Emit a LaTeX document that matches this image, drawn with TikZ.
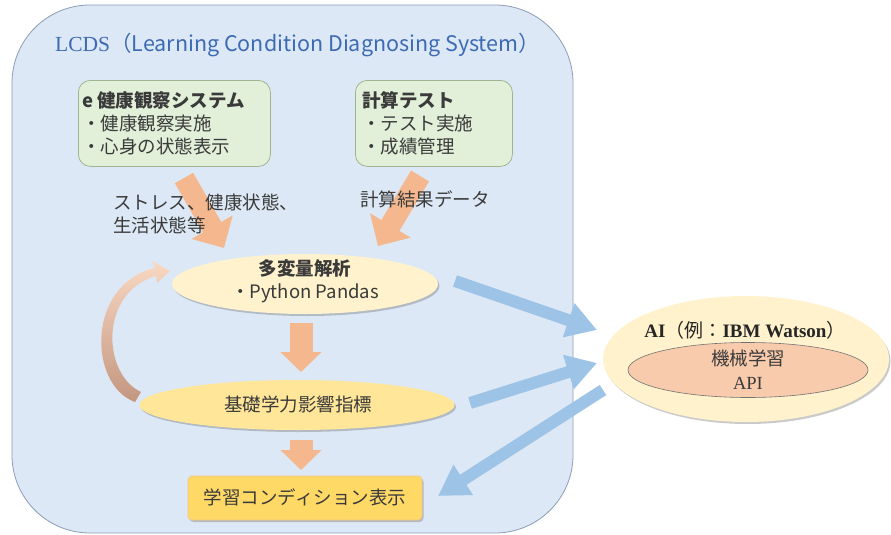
\documentclass[tikz,border=0pt]{standalone}
\usepackage{fontspec}
\setmainfont{Noto Sans CJK JP}
\newfontfamily\serifrm{Liberation Serif}
\usetikzlibrary{shapes.geometric,arrows.meta,shadows}
\definecolor{contfill}{HTML}{DCE8F5}
\definecolor{contdraw}{HTML}{8C9DB5}
\definecolor{titleblue}{HTML}{3D6BB3}
\definecolor{grfill}{HTML}{E2F0D9}
\definecolor{grdraw}{HTML}{9FB58F}
\definecolor{txt}{HTML}{3A3A3A}
\definecolor{orA}{HTML}{F5B88E}
\definecolor{lyel}{HTML}{FFF2CC}
\definecolor{myel}{HTML}{FFE699}
\definecolor{dyel}{HTML}{FFD966}
\definecolor{blueA}{HTML}{9DC3E6}
\definecolor{salmon}{HTML}{F8CBAD}
\definecolor{curvedark}{HTML}{C39680}
\definecolor{curvelight}{HTML}{F9D8C2}
\tikzset{
  container/.style={draw=contdraw, line width=0.8pt, fill=contfill, rounded corners=78pt},
  greenbox/.style={draw=grdraw, line width=0.8pt, fill=grfill, rounded corners=12pt, minimum width=#1, minimum height=86pt, anchor=north west, inner sep=0pt},
  bodytxt/.style={text=txt, font=\fontsize{18.5}{23}\selectfont, inner sep=0pt},
  oarrow/.style={draw=orA, line width=21pt, -{Triangle[width=46pt,length=24pt]}},
  darrow/.style={draw=orA, line width=23pt, -{Triangle[width=40pt,length=20pt]}},
  barrow/.style={draw=blueA, line width=12pt, -{Triangle[width=34pt,length=30pt]}},
  shad/.style={drop shadow={shadow xshift=1.5pt, shadow yshift=-2pt, opacity=0.35, fill=black!60}},
}
\begin{document}
\begin{tikzpicture}[x=1pt,y=-1pt]
\useasboundingbox (0,0) rectangle (891,535);
% container
\draw[container] (12,5) rectangle (573,533);
\node[anchor=west, text=titleblue, font=\fontsize{21.5}{24}\selectfont, inner sep=0pt] (title) at (55,45)
  {{\serifrm LCDS}（Learning Condition Diagnosing System）};

% green boxes
\node[greenbox=192pt] (eh) at (78,80) {};
\node[greenbox=157pt] (ct) at (355,80) {};

% orange arrows into multivariate
\coordinate (a1s) at (184,178);
\coordinate (a1e) at (224,248);
\coordinate (a2s) at (420,176);
\coordinate (a2e) at (378,246);
\draw[oarrow] (a1s) -- (a1e);
\draw[oarrow] (a2s) -- (a2e);

% texts of green boxes and labels
\node[bodytxt, anchor=north west, align=left] (ehtxt) at (82,91)
  {\textbf{e 健康観察システム}\\・健康観察実施\\・心身の状態表示};
\node[bodytxt, anchor=north west, align=left] (cttxt) at (362,91)
  {\textbf{計算テスト}\\・テスト実施\\・成績管理};
\node[bodytxt, anchor=north west, align=left] (lab1) at (113,194)
  {ストレス、健康状態、\\生活状態等};
\node[bodytxt, anchor=north west, align=left] (lab2) at (360,191)
  {計算結果データ};

% ellipses
\node[ellipse, fill=lyel, shad, minimum width=266pt, minimum height=60pt, inner sep=0pt] (mv) at (305,284) {};
\node[bodytxt, align=center, anchor=north] (mvtxt) at (305,259)
  {\textbf{多変量解析}\\・Python Pandas};
\node[ellipse, fill=myel, shad, minimum width=315pt, minimum height=50pt, inner sep=0pt] (kb) at (297,405) {};
\node[bodytxt] (kbtxt) at (298,404) {基礎学力影響指標};

% result box
\node[fill=dyel, draw=orA!70!dyel, line width=0.6pt, rounded corners=4pt, shad, minimum width=234pt, minimum height=44pt, inner sep=0pt] (lc) at (305,498) {};
\node[bodytxt] (lctxt) at (305,497) {学習コンディション表示};

% down arrows
\coordinate (d1s) at (301,323);
\coordinate (d1e) at (301,372);
\coordinate (d2s) at (301,440);
\coordinate (d2e) at (301,470);
\draw[darrow] (d1s) -- (d1e);
\draw[darrow] (d2s) -- (d2e);

% curved feedback arrow
\shade[top color=curvelight, bottom color=curvedark]
  (135,402) .. controls (88,385) and (86,284) .. (155,268)
  -- (152,261) -- (170,271) -- (157,283) -- (156,276)
  .. controls (99,292) and (102,374) .. (141,392) -- cycle;

% AI ellipse
\node[ellipse, fill=lyel, shad, minimum width=286pt, minimum height=126pt, inner sep=0pt] (ai) at (746,359) {};
\node[inner sep=0pt, text=black!85, font=\fontsize{19}{22}\selectfont] (aitxt) at (745,330)
  {\serifrm\bfseries AI{\normalfont\mdseries（例：}IBM Watson{\normalfont\mdseries）}};
\node[ellipse, fill=salmon, draw=black!55, line width=0.6pt, minimum width=240pt, minimum height=55pt, inner sep=0pt] (ml) at (748,370) {};
\node[bodytxt, align=center, anchor=north, font=\fontsize{18.5}{24}\selectfont] (mltxt) at (748,350)
  {機械学習\\{\serifrm API}};

% blue arrows
\coordinate (b1s) at (455,281);
\coordinate (b1e) at (597,330);
\coordinate (b2s) at (470,403);
\coordinate (b2e) at (597,363);
\coordinate (b3s) at (603,390);
\coordinate (b3e) at (438,496);
\draw[barrow] (b1s) -- (b1e);
\draw[barrow] (b2s) -- (b2e);
\draw[barrow] (b3s) -- (b3e);
\end{tikzpicture}
\end{document}
